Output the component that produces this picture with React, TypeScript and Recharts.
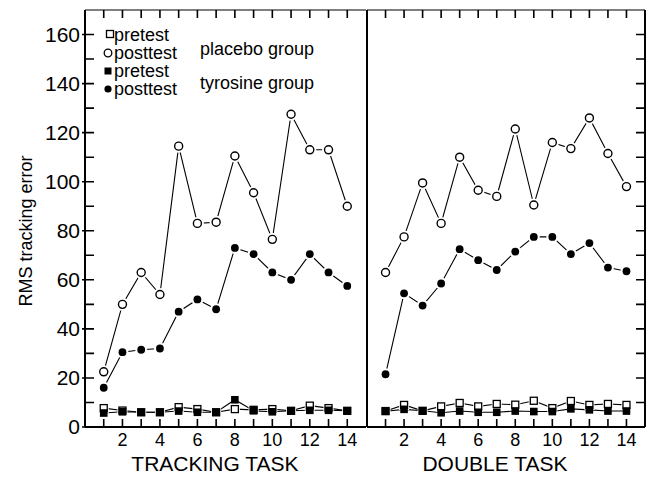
import { Legend, Line, LineChart, XAxis, YAxis } from 'recharts';

const FONT = '"Liberation Sans", Arial, Helvetica, sans-serif';

const trials = [1, 2, 3, 4, 5, 6, 7, 8, 9, 10, 11, 12, 13, 14];
const xTickLabels = [2, 4, 6, 8, 10, 12, 14];
const yTicks = [0, 10, 20, 30, 40, 50, 60, 70, 80, 90, 100, 110, 120, 130, 140, 150, 160];
const yTickLabels = [0, 20, 40, 60, 80, 100, 120, 140, 160];

// tracking task
const trackPlaceboPre = [7.7, 6.7, 6, 6, 8.1, 7.3, 6, 7.3, 7, 7.3, 6.6, 8.7, 7.7, 6.6];
const trackPlaceboPost = [22.5, 50, 63, 54, 114.5, 83, 83.5, 110.5, 95.5, 76.5, 127.5, 113, 113, 90];
const trackTyrosinePre = [5.7, 6.2, 6, 6, 6.5, 6, 6, 11.1, 6.6, 6.2, 6.6, 6.8, 6.8, 6.6];
const trackTyrosinePost = [16, 30.5, 31.5, 32, 47, 52, 48, 73, 70.5, 63, 60, 70.5, 63, 57.5];

// double task
const doublePlaceboPre = [6.5, 9, 6.6, 8.4, 9.8, 8.4, 9.4, 9.1, 10.7, 7.7, 10.6, 9, 9.4, 9];
const doublePlaceboPost = [63, 77.5, 99.5, 83, 110, 96.5, 94, 121.5, 90.5, 116, 113.5, 126, 111.5, 98];
const doubleTyrosinePre = [6.4, 7.2, 6.6, 5.8, 6.5, 6, 6, 6.5, 6.3, 6.3, 7.4, 7, 6.5, 6.5];
const doubleTyrosinePost = [21.5, 54.5, 49.5, 58.5, 72.5, 68, 64, 71.5, 77.5, 77.5, 70.5, 75, 65, 63.5];

const Y_MAX = 170;
const X_MAX = 15;
const H = 477;
const PLOT_H = 417;

function rows(pp: number[], po: number[], tp: number[], to: number[]) {
  return trials.map((t, i) => ({
    trial: t,
    placeboPre: pp[i],
    placeboPost: po[i],
    tyrosinePre: tp[i],
    tyrosinePost: to[i],
  }));
}

const trackData = rows(trackPlaceboPre, trackPlaceboPost, trackTyrosinePre, trackTyrosinePost);
const doubleData = rows(doublePlaceboPre, doublePlaceboPost, doubleTyrosinePre, doubleTyrosinePost);

// markers sit on a small white patch so the lines stop short of them, like the original
const openCircle = (p: any) => (
  <g key={`oc-${p.index}`}>
    <circle cx={p.cx} cy={p.cy} r={6.5} fill="#fff" />
    <circle cx={p.cx} cy={p.cy} r={4} fill="#fff" stroke="#000" strokeWidth={1.4} />
  </g>
);
const filledCircle = (p: any) => (
  <g key={`fc-${p.index}`}>
    <circle cx={p.cx} cy={p.cy} r={6} fill="#fff" />
    <circle cx={p.cx} cy={p.cy} r={3.9} fill="#000" />
  </g>
);
const openSquare = (p: any) => (
  <g key={`os-${p.index}`}>
    <rect x={p.cx - 5} y={p.cy - 5} width={10} height={10} fill="#fff" />
    <rect x={p.cx - 3.5} y={p.cy - 3.5} width={7} height={7} fill="#fff" stroke="#000" strokeWidth={1.3} />
  </g>
);
const filledSquare = (p: any) => (
  <rect key={`fs-${p.index}`} x={p.cx - 3.8} y={p.cy - 3.8} width={7.6} height={7.6} fill="#000" />
);

// tick labels (tickSize/tickMargin 0, so x/y are on the axis line)
const LeftTick = (p: any) => {
  const v = p.payload.value;
  if (!yTickLabels.includes(v)) return <g />;
  return (
    <text x={Number(p.x) - 5} y={Number(p.y) + 7} textAnchor="end" fontSize={21} fontFamily={FONT} fill="#000">
      {v}
    </text>
  );
};

const BottomTick = (p: any) => {
  const v = p.payload.value;
  if (!xTickLabels.includes(v)) return <g />;
  return (
    <text x={Number(p.x)} y={Number(p.y) + 19} textAnchor="middle" fontSize={18} fontFamily={FONT} fill="#000">
      {v}
    </text>
  );
};

// inward tick marks, drawn from the axis box handed to the axis label
function xMarks(vb: any) {
  const x0 = Number(vb.x);
  const w = Number(vb.width);
  const yb = Number(vb.y);
  const yt = yb - PLOT_H;
  let d = '';
  trials.forEach((t) => {
    const x = x0 + (w * t) / X_MAX;
    d += `M${x},${yb}v-8M${x},${yt}v8`;
  });
  return <path d={d} stroke="#000" strokeWidth={1.6} fill="none" />;
}

function yMarks(vb: any, side: 'left' | 'right', values: number[]) {
  const top = Number(vb.y);
  const h = Number(vb.height);
  const xa = side === 'left' ? Number(vb.x) + Number(vb.width) : Number(vb.x);
  let d = '';
  values.forEach((v) => {
    const y = top + h - (h * v) / Y_MAX;
    if (side === 'left') {
      const major = yTickLabels.includes(v);
      d += `M${xa - (major ? 3 : 0)},${y}H${xa + 9}`;
    } else {
      d += `M${xa},${y}h-9`;
    }
  });
  return <path d={d} stroke="#000" strokeWidth={1.6} fill="none" />;
}

function LegendBox() {
  const t = { fontSize: 18, fontFamily: FONT, fill: '#000' };
  return (
    <svg width={380} height={100} style={{ display: 'block' }}>
      <rect x={106.5} y={30.5} width={7} height={7} fill="#fff" stroke="#000" strokeWidth={1.3} />
      <text x={114} y={41} {...t}>pretest</text>
      <circle cx={108} cy={53} r={3.8} fill="#fff" stroke="#000" strokeWidth={1.3} />
      <text x={114} y={59} {...t}>posttest</text>
      <rect x={104.5} y={67.5} width={7} height={7} fill="#000" />
      <text x={114} y={77} {...t}>pretest</text>
      <circle cx={108} cy={89} r={3.6} fill="#000" />
      <text x={114} y={95} {...t}>posttest</text>
      <text x={200} y={55} {...t}>placebo group</text>
      <text x={200} y={89} {...t}>tyrosine group</text>
    </svg>
  );
}

function series() {
  return [
    <Line key="pp" xAxisId="b" yAxisId="l" dataKey="placeboPre" stroke="#000" strokeWidth={1.1} dot={openSquare} activeDot={false} isAnimationActive={false} />,
    <Line key="tp" xAxisId="b" yAxisId="l" dataKey="tyrosinePre" stroke="#000" strokeWidth={1.1} dot={filledSquare} activeDot={false} isAnimationActive={false} />,
    <Line key="to" xAxisId="b" yAxisId="l" dataKey="tyrosinePost" stroke="#000" strokeWidth={1.1} dot={filledCircle} activeDot={false} isAnimationActive={false} />,
    <Line key="po" xAxisId="b" yAxisId="l" dataKey="placeboPost" stroke="#000" strokeWidth={1.1} dot={openCircle} activeDot={false} isAnimationActive={false} />,
  ];
}

function xAxes(label: string, cx: number) {
  return [
    <XAxis
      key="b"
      xAxisId="b"
      type="number"
      dataKey="trial"
      domain={[0, X_MAX]}
      ticks={trials}
      interval={0}
      height={50}
      tickSize={0}
      tickMargin={0}
      tickLine={false}
      tick={BottomTick}
      stroke="#000"
      axisLine={{ stroke: '#000', strokeWidth: 2 }}
      label={(p: any) => (
        <g>
          {xMarks(p.viewBox)}
          <text x={cx} y={471} textAnchor="middle" fontSize={21} fontFamily={FONT} fill="#000">
            {label}
          </text>
        </g>
      )}
    />,
    <XAxis
      key="t"
      xAxisId="t"
      orientation="top"
      type="number"
      dataKey="trial"
      domain={[0, X_MAX]}
      height={1}
      tick={false}
      tickLine={false}
      stroke="#000"
      axisLine={{ stroke: '#000', strokeWidth: 1.2 }}
    />,
  ];
}

export default function App() {
  return (
    <div
      style={{
        position: 'absolute',
        left: 0,
        top: 0,
        width: 659,
        height: H,
        background: '#fff',
        fontFamily: FONT,
        fontSize: 19,
      }}
    >
      <div style={{ position: 'absolute', left: 0, top: 0 }}>
        <LineChart width={380} height={H} data={trackData} margin={{ top: 9, right: 14, bottom: 0, left: 0 }}>
          {xAxes('TRACKING TASK', 215)}
          <YAxis
            yAxisId="l"
            type="number"
            domain={[0, Y_MAX]}
            ticks={yTicks}
            interval={0}
            width={85}
            tickSize={0}
            tickMargin={0}
            tickLine={false}
            tick={LeftTick}
            stroke="#000"
            axisLine={{ stroke: '#000', strokeWidth: 2 }}
            label={(p: any) => (
              <g>
                {yMarks(p.viewBox, 'left', yTicks)}
                <text
                  x={26}
                  y={231}
                  transform="rotate(-90 26 231)"
                  textAnchor="middle"
                  dominantBaseline="central"
                  fontSize={18}
                  fontFamily={FONT}
                  fill="#000"
                >
                  RMS tracking error
                </text>
              </g>
            )}
          />
          {series()}
          <Legend
            layout="vertical"
            align="center"
            verticalAlign="middle"
            content={() => <LegendBox />}
            wrapperStyle={{ left: 0, top: 0, width: 380, height: 100 }}
          />
        </LineChart>
      </div>
      <div style={{ position: 'absolute', left: 356, top: 0 }}>
        <LineChart width={303} height={H} data={doubleData} margin={{ top: 9, right: 13, bottom: 0, left: 10 }}>
          {xAxes('DOUBLE TASK', 139)}
          <YAxis
            yAxisId="l"
            type="number"
            domain={[0, Y_MAX]}
            width={1}
            tick={false}
            tickLine={false}
            stroke="#000"
            axisLine={{ stroke: '#000', strokeWidth: 2 }}
          />
          <YAxis
            yAxisId="r"
            orientation="right"
            type="number"
            domain={[0, Y_MAX]}
            width={1}
            tick={false}
            tickLine={false}
            stroke="#000"
            axisLine={{ stroke: '#000', strokeWidth: 2 }}
            label={(p: any) => yMarks(p.viewBox, 'right', yTicks.slice(1))}
          />
          {series()}
        </LineChart>
      </div>
    </div>
  );
}
